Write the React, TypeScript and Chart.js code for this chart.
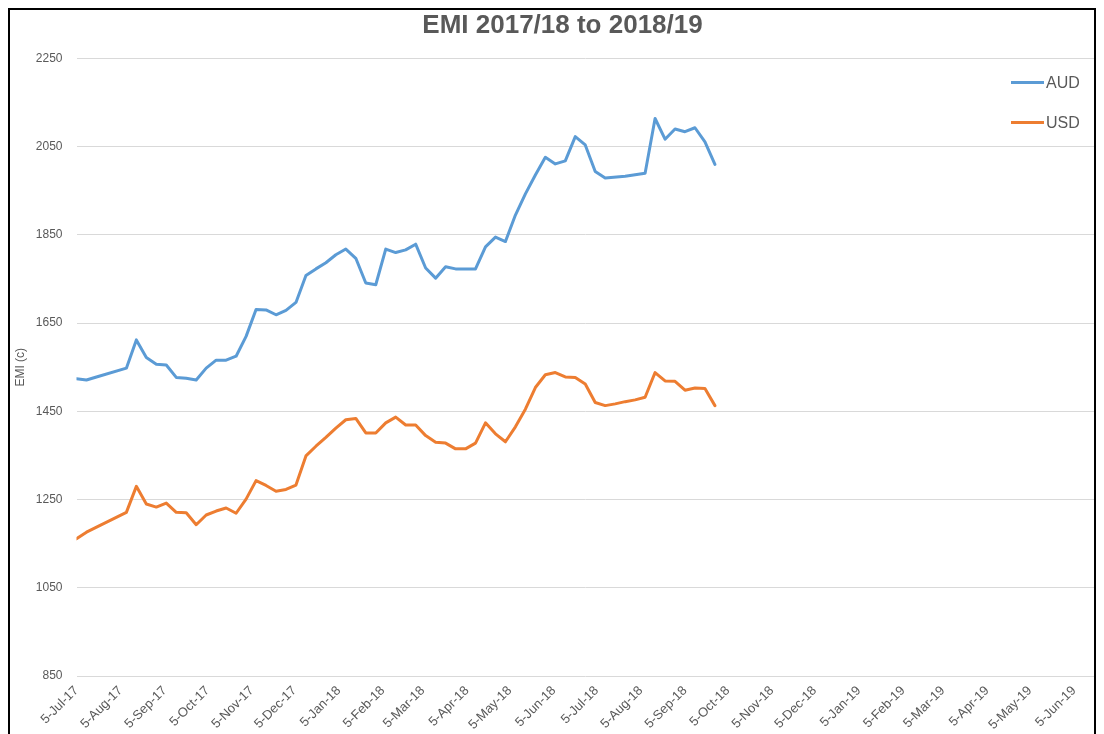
import React, { useEffect, useRef } from "react";
import { Chart, registerables } from "chart.js";

Chart.register(...registerables);

// ---- data ----
const chartTitle = "EMI 2017/18 to 2018/19";
const yAxisTitle = "EMI (c)";

const weekDates = [
  "2017-07-05", "2017-07-12", "2017-07-19", "2017-07-26", "2017-08-02", "2017-08-09", "2017-08-16",
  "2017-08-23", "2017-08-30", "2017-09-06", "2017-09-13", "2017-09-20", "2017-09-27", "2017-10-04",
  "2017-10-11", "2017-10-18", "2017-10-25", "2017-11-01", "2017-11-08", "2017-11-15", "2017-11-22",
  "2017-11-29", "2017-12-06", "2017-12-13", "2017-12-20", "2017-12-27", "2018-01-03", "2018-01-10",
  "2018-01-17", "2018-01-24", "2018-01-31", "2018-02-07", "2018-02-14", "2018-02-21", "2018-02-28",
  "2018-03-07", "2018-03-14", "2018-03-21", "2018-03-28", "2018-04-04", "2018-04-11", "2018-04-18",
  "2018-04-25", "2018-05-02", "2018-05-09", "2018-05-16", "2018-05-23", "2018-05-30", "2018-06-06",
  "2018-06-13", "2018-06-20", "2018-06-27", "2018-07-04", "2018-07-11", "2018-07-18", "2018-07-25",
  "2018-08-01", "2018-08-08", "2018-08-15", "2018-08-22", "2018-08-29", "2018-09-05", "2018-09-12",
  "2018-09-19", "2018-09-26",
];

const audValues: (number | null)[] = [
  1524, 1521, 1528, null, null, 1548, 1612, 1572, 1557, 1555, 1527, 1525, 1521, 1548,
  1566, 1566, 1575, 1620, 1681, 1680, 1669, 1679, 1697, 1758, 1773, 1787, 1805, 1818,
  1797, 1741, 1737, 1818, 1810, 1816, 1829, 1775, 1752, 1778, 1773, null, 1773, 1823,
  1845, 1835, 1895, 1943, 1986, 2026, 2011, 2018, 2073, 2054, 1994, 1979, null, 1983,
  null, 1990, 2114, 2067, 2090, 2084, 2093, 2061, 2010,
];

const usdValues: (number | null)[] = [
  1161, 1176, null, null, null, 1221, 1280, 1240, 1233, 1242, 1221, 1220, 1193, 1215,
  1224, 1231, 1219, 1251, 1293, 1282, 1269, 1273, 1283, 1349, 1371, 1391, 1412, 1431,
  1434, 1401, 1401, 1424, 1437, 1419, 1419, 1395, 1380, 1378, 1365, 1365, 1378, 1424,
  1399, 1381, 1415, 1455, 1504, 1533, 1538, 1528, 1527, 1512, 1470, 1463, 1467, 1472,
  1476, 1482, 1538, 1519, 1518, 1498, 1503, 1502, 1463,
];

const tickDates = [
  "2017-07-05", "2017-08-05", "2017-09-05", "2017-10-05", "2017-11-05", "2017-12-05",
  "2018-01-05", "2018-02-05", "2018-03-05", "2018-04-05", "2018-05-05", "2018-06-05",
  "2018-07-05", "2018-08-05", "2018-09-05", "2018-10-05", "2018-11-05", "2018-12-05",
  "2019-01-05", "2019-02-05", "2019-03-05", "2019-04-05", "2019-05-05", "2019-06-05",
];
const tickLabels = [
  "5-Jul-17", "5-Aug-17", "5-Sep-17", "5-Oct-17", "5-Nov-17", "5-Dec-17",
  "5-Jan-18", "5-Feb-18", "5-Mar-18", "5-Apr-18", "5-May-18", "5-Jun-18",
  "5-Jul-18", "5-Aug-18", "5-Sep-18", "5-Oct-18", "5-Nov-18", "5-Dec-18",
  "5-Jan-19", "5-Feb-19", "5-Mar-19", "5-Apr-19", "5-May-19", "5-Jun-19",
];
const axisStartDate = "2017-07-05";
const axisEndDate = "2019-06-19";
const yMin = 850;
const yMax = 2250;
const yStep = 200;

const seriesNames = ["AUD", "USD"];
const seriesColors = ["#5B9BD5", "#ED7D31"];

// ---- helpers ----
const DAY_MS = 86400000;
const dayOf = (s: string) =>
  Math.round((Date.parse(s + "T00:00:00Z") - Date.parse(axisStartDate + "T00:00:00Z")) / DAY_MS);

const GREY = "#595959";
const FONT = "'Liberation Sans', Arial, sans-serif";

const cornerLegend = {
  id: "cornerLegend",
  afterDraw(chart: any) {
    const { ctx, chartArea } = chart;
    ctx.save();
    chart.data.datasets.forEach((ds: any, i: number) => {
      const y = chartArea.top + 24 + i * 40;
      const x0 = chartArea.right - 83;
      ctx.strokeStyle = ds.borderColor;
      ctx.lineWidth = 3;
      ctx.lineCap = "butt";
      ctx.beginPath();
      ctx.moveTo(x0, y);
      ctx.lineTo(x0 + 33, y);
      ctx.stroke();
      ctx.fillStyle = GREY;
      ctx.font = `16px ${FONT}`;
      ctx.textBaseline = "middle";
      ctx.textAlign = "left";
      ctx.fillText(ds.label, x0 + 35, y + 1);
    });
    ctx.restore();
  },
};

export default function App() {
  const canvasRef = useRef<HTMLCanvasElement | null>(null);

  useEffect(() => {
    if (!canvasRef.current) return;
    const toPoints = (vals: (number | null)[]) =>
      weekDates.map((d, i) => ({ x: dayOf(d), y: vals[i] }));
    const tickValues = tickDates.map(dayOf);

    const chart = new Chart(canvasRef.current, {
      type: "line",
      data: {
        datasets: [audValues, usdValues].map((vals, i) => ({
          label: seriesNames[i],
          data: toPoints(vals) as any,
          borderColor: seriesColors[i],
          backgroundColor: seriesColors[i],
          borderWidth: 3,
          pointRadius: 0,
          pointHoverRadius: 0,
          tension: 0,
          spanGaps: true,
          borderJoinStyle: "round",
          borderCapStyle: "round",
        })),
      },
      plugins: [cornerLegend],
      options: {
        responsive: false,
        animation: false,
        devicePixelRatio: 1,
        layout: { padding: { left: 21, right: 0, top: 0, bottom: 0 } },
        plugins: {
          legend: { display: false },
          tooltip: { enabled: false },
          title: {
            display: true,
            text: chartTitle,
            color: GREY,
            font: { family: FONT, size: 26, weight: "bold" },
            padding: { top: 0, bottom: 17.3 },
          },
        },
        scales: {
          x: {
            type: "linear",
            min: 0,
            max: dayOf(axisEndDate),
            grid: { display: false, drawTicks: false },
            border: { display: false },
            afterBuildTicks: (scale: any) => {
              scale.ticks = tickValues.map((v) => ({ value: v }));
            },
            afterFit: (scale: any) => {
              scale.height = 58;
            },
            ticks: {
              autoSkip: false,
              maxRotation: 45,
              minRotation: 45,
              padding: 7,
              color: GREY,
              font: { family: FONT, size: 13 },
              callback: (value: any) => {
                const idx = tickValues.indexOf(Number(value));
                return idx >= 0 ? tickLabels[idx] : "";
              },
            },
          },
          y: {
            min: yMin,
            max: yMax,
            grid: { color: "#D9D9D9", lineWidth: 1, drawTicks: false },
            border: { display: false },
            afterFit: (scale: any) => {
              scale.width = 45.5;
            },
            ticks: {
              stepSize: yStep,
              padding: 14,
              color: GREY,
              font: { family: FONT, size: 12 },
              callback: (value: any) => String(value),
            },
            title: {
              display: true,
              text: yAxisTitle,
              color: GREY,
              font: { family: FONT, size: 12 },
              padding: { top: -18, bottom: 0 },
            },
          },
        },
      } as any,
    });
    return () => chart.destroy();
  }, []);

  return (
    <div
      style={{
        border: "2px solid #000",
        borderBottom: "none",
        width: 1084,
        height: 724,
        background: "#fff",
      }}
    >
      <canvas ref={canvasRef} width={1084} height={724} style={{ display: "block" }} />
    </div>
  );
}
